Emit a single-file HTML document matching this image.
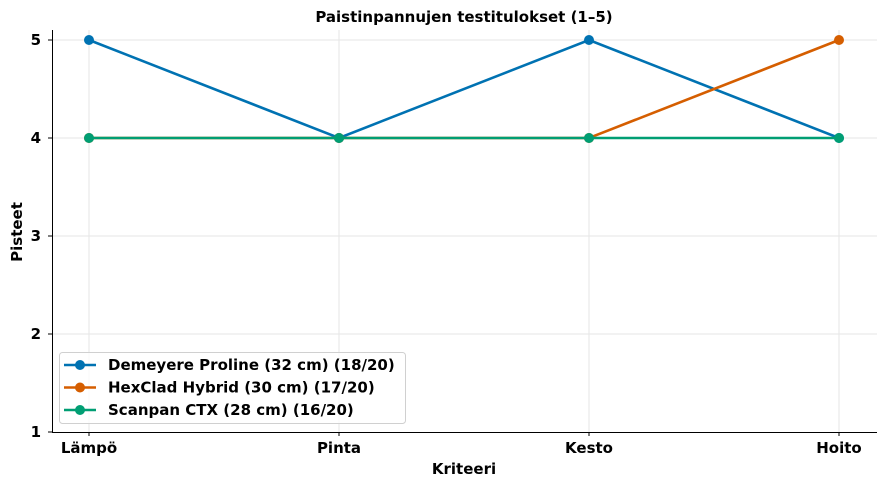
<!DOCTYPE html>
<html><head><meta charset="utf-8">
<style>
body{margin:0;background:#fff;}
svg text{font-family:"DejaVu Sans","Liberation Sans",sans-serif;font-weight:bold;fill:#000;}
</style></head>
<body>
<svg id="chart" width="887" height="487" viewBox="0 0 887 487" xmlns="http://www.w3.org/2000/svg">
<text x="464" y="22" text-anchor="middle" font-size="15">Paistinpannujen testitulokset (1–5)</text>
<g id="grid"></g>
<g id="axes"></g>
<g id="series"></g>
<g id="legend"></g>
<text x="464" y="474" text-anchor="middle" font-size="15">Kriteeri</text>
<text transform="translate(22,232) rotate(-90)" text-anchor="middle" font-size="15">Pisteet</text>
</svg>
<script>
const categories = ["Lämpö","Pinta","Kesto","Hoito"];
const seriesNames = ["Demeyere Proline (32 cm) (18/20)","HexClad Hybrid (30 cm) (17/20)","Scanpan CTX (28 cm) (16/20)"];
const demeyere = [5,4,5,4];
const hexclad = [4,4,4,5];
const scanpan = [4,4,4,4];
const yTicks = [1,2,3,4,5];
const colors = ["#0072b2","#d55e00","#009e73"];
const NS="http://www.w3.org/2000/svg";
const X0=89, XSTEP=250, YBASE=432, YUNIT=98;
const xs=i=>X0+i*XSTEP;
const ys=v=>YBASE-(v-1)*YUNIT;
function mk(tag,attrs,parent){const e=document.createElementNS(NS,tag);for(const k in attrs)e.setAttribute(k,attrs[k]);parent.appendChild(e);return e;}
const grid=document.getElementById('grid'),axes=document.getElementById('axes'),ser=document.getElementById('series'),leg=document.getElementById('legend');
categories.forEach((c,i)=>{
  const l=mk('line',{x1:xs(i),x2:xs(i),y1:30,y2:432,stroke:'#e5e5e5','stroke-width':1},grid);
  
  
  mk('line',{x1:xs(i),x2:xs(i),y1:432,y2:436,stroke:'#000'},axes);
  const t=mk('text',{x:xs(i),y:453,'text-anchor':'middle','font-size':15},axes);
  t.textContent=c;
  
  
});
yTicks.forEach(v=>{
  if(v>1){const l=mk('line',{x1:52,x2:877,y1:ys(v),y2:ys(v),stroke:'#e5e5e5','stroke-width':1},grid);
  
  }
  mk('line',{x1:48,x2:52,y1:ys(v),y2:ys(v),stroke:'#000'},axes);
  const t=mk('text',{x:41,y:ys(v)+5,'text-anchor':'end','font-size':15},axes);
  t.textContent=v;
  
  
});
const la=mk('line',{x1:52.5,x2:52.5,y1:30,y2:432,stroke:'#000','stroke-width':1},axes);


const lb=mk('line',{x1:52,x2:877,y1:432.5,y2:432.5,stroke:'#000','stroke-width':1},axes);


[demeyere,hexclad,scanpan].forEach((vals,s)=>{
  const g=mk('g',{},ser);
  
  
  mk('polyline',{points:vals.map((v,i)=>xs(i)+','+ys(v)).join(' '),fill:'none',stroke:colors[s],'stroke-width':2.6},g);
  vals.forEach((v,i)=>{
    const c=mk('circle',{cx:xs(i),cy:ys(v),r:5,fill:colors[s]},g);
    
    
  });
});
const box=mk('rect',{x:59.5,y:352.5,width:346,height:71,rx:3,fill:'#fff','fill-opacity':0.8,stroke:'#d0d0d0'},leg);


seriesNames.forEach((n,s)=>{
  const y=365+s*22.5;
  const g=mk('g',{},leg);
  
  
  mk('line',{x1:64,x2:96,y1:y,y2:y,stroke:colors[s],'stroke-width':2.6},g);
  mk('circle',{cx:80,cy:y,r:5,fill:colors[s]},g);
  const t=mk('text',{x:108,y:y+5,'font-size':15},g);
  t.textContent=n;
});
</script>
</body></html>
